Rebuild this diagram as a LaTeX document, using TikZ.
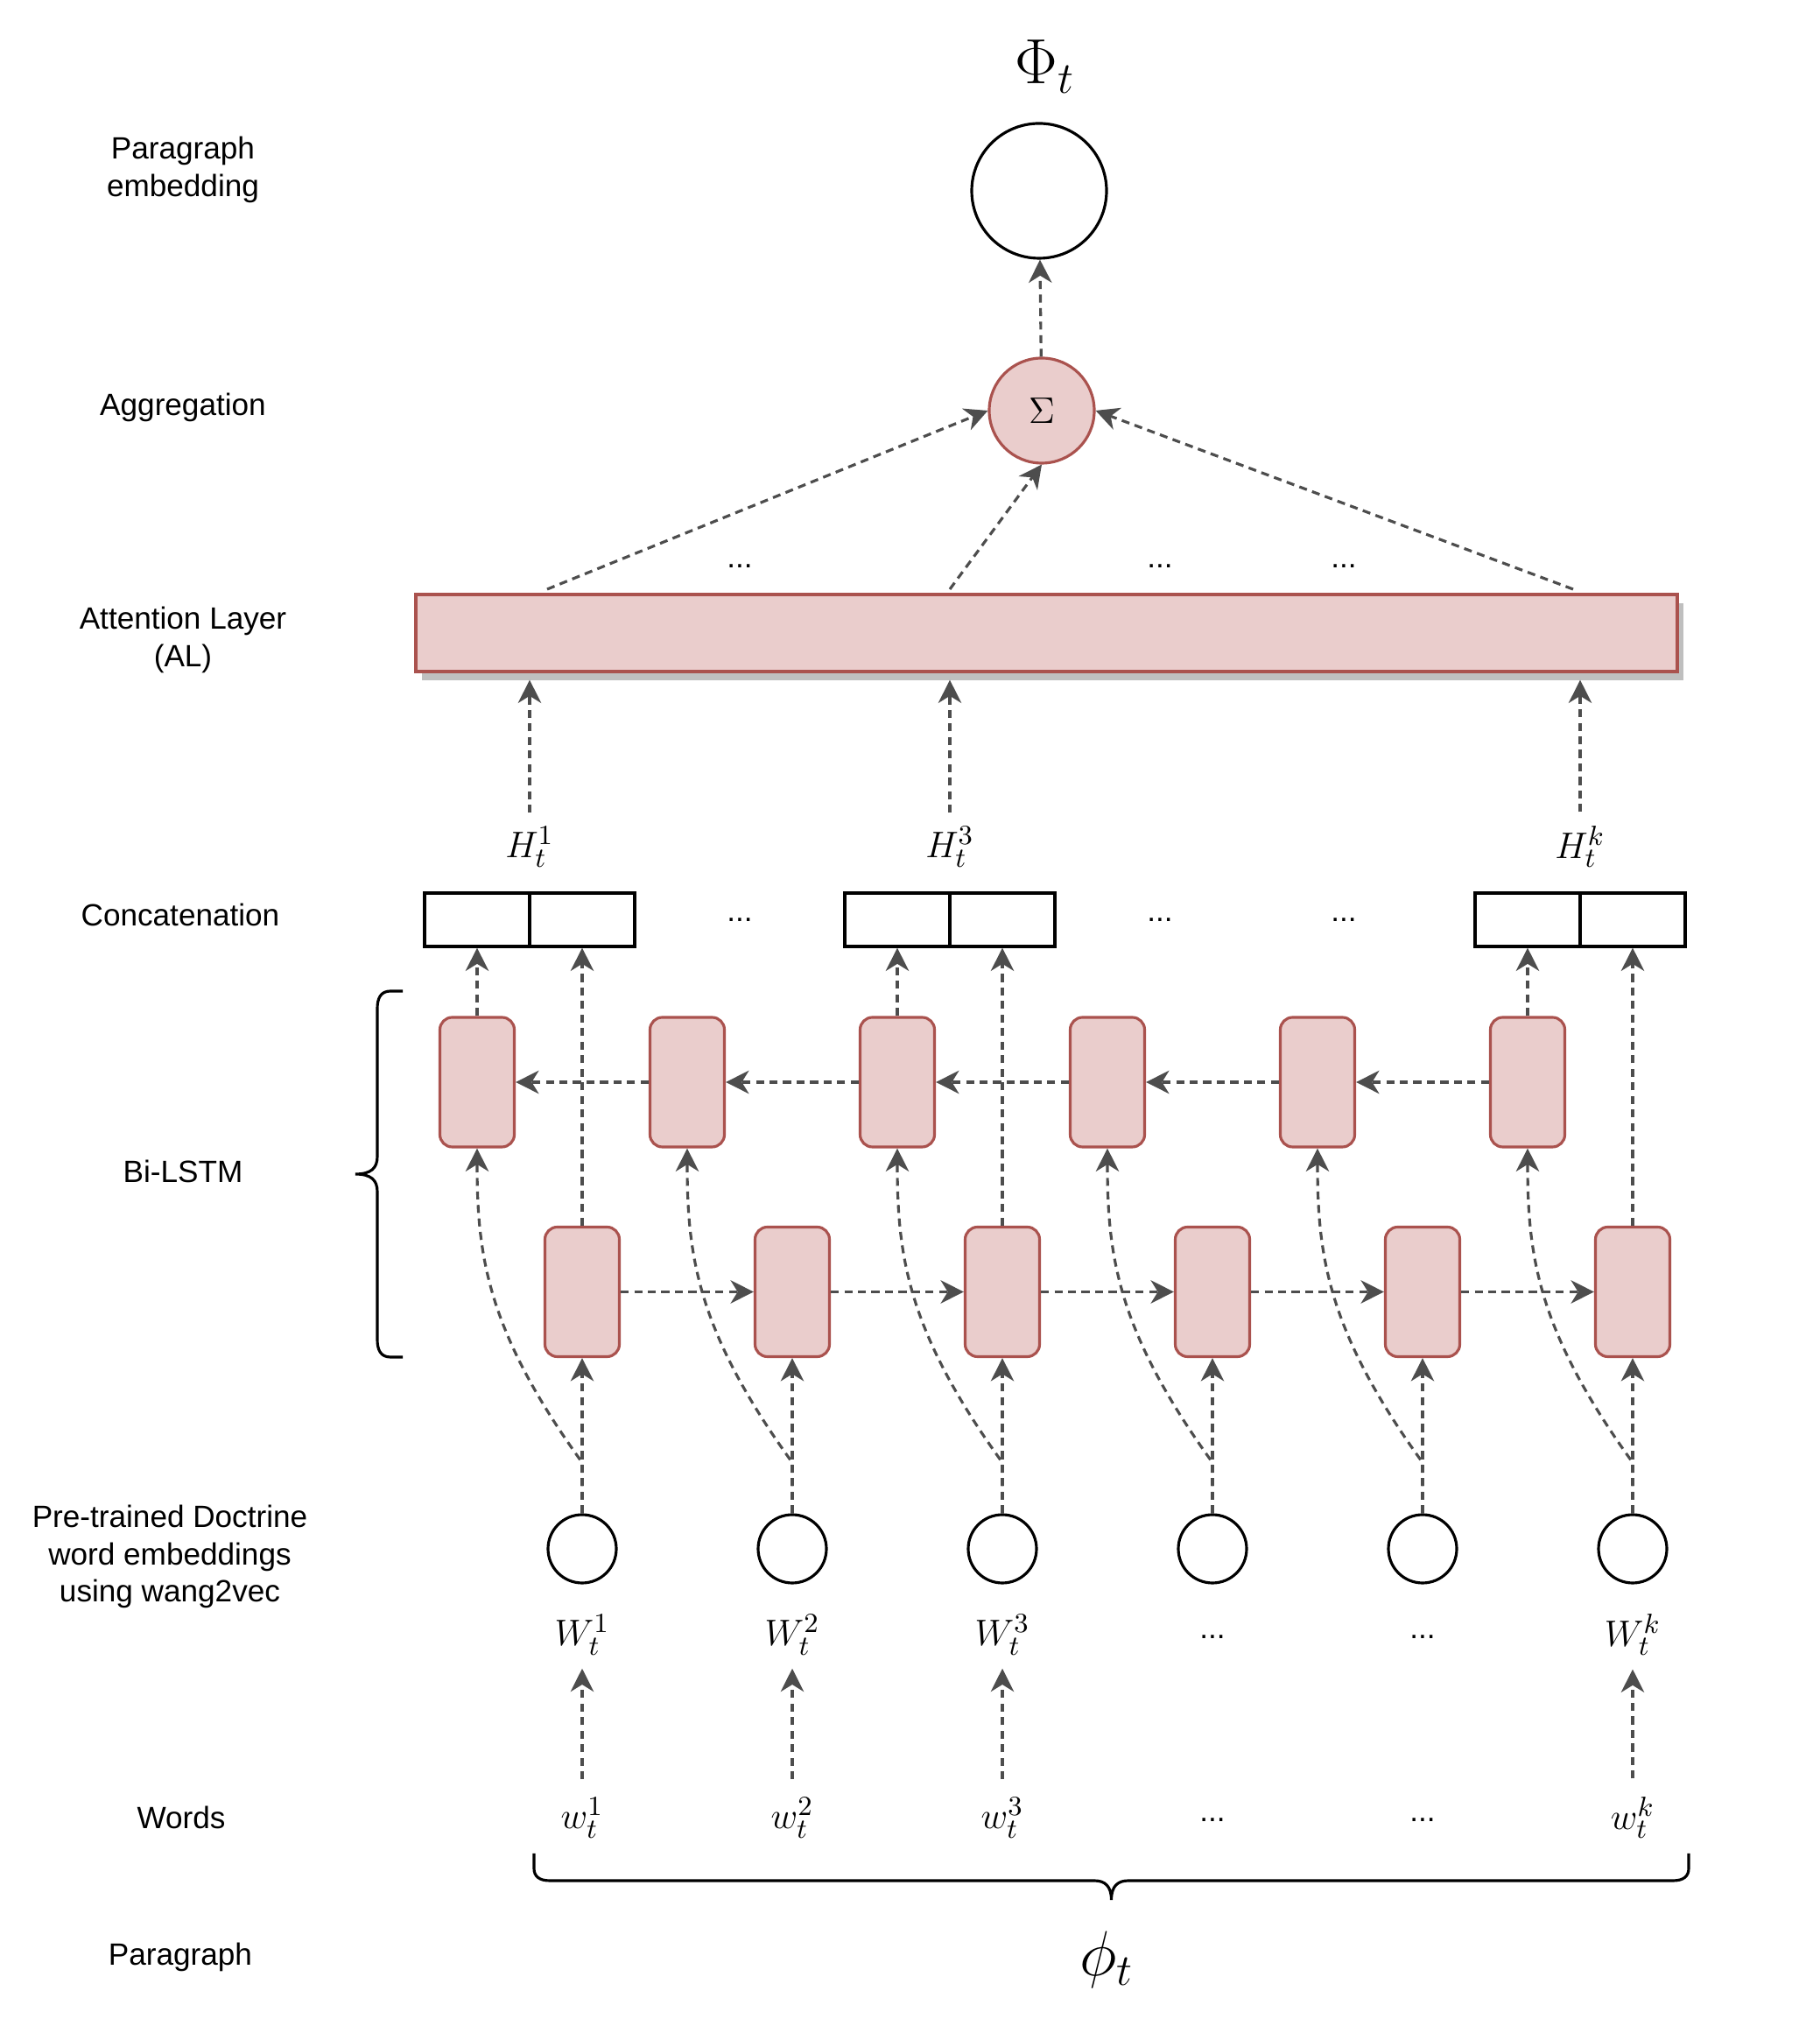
\documentclass[tikz,border=0pt]{standalone}
\usepackage{fontspec}
\setmainfont{Liberation Sans}
\usetikzlibrary{arrows.meta, positioning, calc, shadows}

\definecolor{lstmfill}{RGB}{234,205,204}
\definecolor{lstmline}{RGB}{170,82,78}
\definecolor{edgegray}{RGB}{77,77,77}
\definecolor{shadowgray}{RGB}{191,191,191}

\tikzset{
    flow/.style={draw=edgegray, line width=0.9pt, dash pattern=on 2.6pt off 1.8pt,
        -{Stealth[length=7.5pt, width=7.5pt, inset=2.3pt]}},
    cell/.style={draw=lstmline, fill=lstmfill, line width=0.9pt, rounded corners=4pt,
        minimum width=0.85cm, minimum height=1.48cm, inner sep=0pt},
    unit/.style={draw, circle, line width=0.9pt, minimum size=0.78cm, inner sep=0pt},
    half/.style={draw, line width=0.9pt, minimum width=1.2cm, minimum height=0.61cm, inner sep=0pt},
    attn/.style={draw=lstmline, fill=lstmfill, line width=0.9pt, minimum width=14.41cm,
        minimum height=0.88cm, inner sep=0pt,
        drop shadow={shadow xshift=0.07cm, shadow yshift=-0.1cm, fill=shadowgray, opacity=1}},
    layer/.style={font=\fontsize{10}{12}\selectfont, align=center},
    sym/.style={font=\fontsize{12.5}{14}\selectfont, inner sep=0pt},
    dots/.style={font=\fontsize{10}{12}\selectfont, inner sep=0pt},
    big/.style={font=\fontsize{20}{24}\selectfont, inner sep=0pt}
}

\begin{document}
\begin{tikzpicture}
    \useasboundingbox (0,0) rectangle (20.79,23.06);
    % layer names
    \node[layer] (lpara) at (2.09,21.12) {Paragraph\\embedding};
    \node[layer] (lagg) at (2.09,18.41) {Aggregation};
    \node[layer] (lal) at (2.09,15.75) {Attention Layer\\(AL)};
    \node[layer] (lcat) at (2.06,12.61) {Concatenation};
    \node[layer] (llstm) at (2.09,9.68) {Bi-LSTM};
    \node[layer] (lemb) at (1.94,5.28) {Pre-trained Doctrine\\word embeddings\\using wang2vec};
    \node[layer] (lword) at (2.07,2.30) {Words};
    \node[layer] (lpar) at (2.06,0.71) {Paragraph};
    % output
    \node[big] (phi) at (11.94,22.30) {$\Phi_t$};
    \node[unit, minimum size=1.54cm] (para) at (11.87,20.88) {};
    \node[unit, draw=lstmline, fill=lstmfill, minimum size=1.2cm, font=\fontsize{12}{14}\selectfont] (sum) at (11.90,18.37) {$\Sigma$};
    \draw[flow] (sum) -- (para);
    % attention layer
    \node[attn] (al) at (11.955,15.83) {};
    \coordinate (alb) at ([yshift=-0.08cm]al.south);
    \coordinate (al1) at (6.25,16.33);
    \coordinate (al3) at (10.85,16.33);
    \coordinate (alk) at (17.97,16.33);
    \draw[flow] (al1) -- (sum.west);
    \draw[flow] (al3) -- (sum.south);
    \draw[flow] (alk) -- (sum.east);
    \node[dots] (ad1) at (8.45,16.59) {...};
    \node[dots] (ad2) at (13.25,16.59) {...};
    \node[dots] (ad3) at (15.35,16.59) {...};
    % hidden states
    \node[sym] (h1) at (6.05,13.39) {$H_t^1$};
    \node[sym] (h3) at (10.85,13.39) {$H_t^3$};
    \node[sym] (hk) at (18.05,13.39) {$H_t^k$};
    \draw[flow] ([yshift=1.5mm]h1.north) -- (h1 |- alb);
    \draw[flow] ([yshift=1.5mm]h3.north) -- (h3 |- alb);
    \draw[flow] ([yshift=1.5mm]hk.north) -- (hk |- alb);
    % concatenation
    \node[half] (c1a) at (5.45,12.555) {};
    \node[half] (c1b) at (6.65,12.555) {};
    \node[half] (c2a) at (10.25,12.555) {};
    \node[half] (c2b) at (11.45,12.555) {};
    \node[half] (c3a) at (17.45,12.555) {};
    \node[half] (c3b) at (18.65,12.555) {};
    \node[dots] (cd1) at (8.45,12.55) {...};
    \node[dots] (cd2) at (13.25,12.55) {...};
    \node[dots] (cd3) at (15.35,12.55) {...};
    % backward lstm
    \node[cell] (t1) at (5.45,10.70) {};
    \node[cell] (t2) at (7.85,10.70) {};
    \node[cell] (t3) at (10.25,10.70) {};
    \node[cell] (t4) at (12.65,10.70) {};
    \node[cell] (t5) at (15.05,10.70) {};
    \node[cell] (t6) at (17.45,10.70) {};
    % forward lstm
    \node[cell] (b1) at (6.65,8.305) {};
    \node[cell] (b2) at (9.05,8.305) {};
    \node[cell] (b3) at (11.45,8.305) {};
    \node[cell] (b4) at (13.85,8.305) {};
    \node[cell] (b5) at (16.25,8.305) {};
    \node[cell] (b6) at (18.65,8.305) {};
    \draw[flow] (t2.west) -- (t1.east);
    \draw[flow] (t3.west) -- (t2.east);
    \draw[flow] (t4.west) -- (t3.east);
    \draw[flow] (t5.west) -- (t4.east);
    \draw[flow] (t6.west) -- (t5.east);
    \draw[flow] (b1.east) -- (b2.west);
    \draw[flow] (b2.east) -- (b3.west);
    \draw[flow] (b3.east) -- (b4.west);
    \draw[flow] (b4.east) -- (b5.west);
    \draw[flow] (b5.east) -- (b6.west);
    \draw[flow] (t1.north) -- (c1a.south);
    \draw[flow] (b1.north) -- (c1b.south);
    \draw[flow] (t3.north) -- (c2a.south);
    \draw[flow] (b3.north) -- (c2b.south);
    \draw[flow] (t6.north) -- (c3a.south);
    \draw[flow] (b6.north) -- (c3b.south);
    % word embeddings
    \node[unit] (e1) at (6.65,5.37) {};
    \node[unit] (e2) at (9.05,5.37) {};
    \node[unit] (e3) at (11.45,5.37) {};
    \node[unit] (e4) at (13.85,5.37) {};
    \node[unit] (e5) at (16.25,5.37) {};
    \node[unit] (e6) at (18.65,5.37) {};
    \draw[flow] (e1.north) -- (b1.south);
    \draw[flow] (e2.north) -- (b2.south);
    \draw[flow] (e3.north) -- (b3.south);
    \draw[flow] (e4.north) -- (b4.south);
    \draw[flow] (e5.north) -- (b5.south);
    \draw[flow] (e6.north) -- (b6.south);
    \draw[flow] (e1.north) -- ++(0,0.58) .. controls +(-1.1,1.52) and +(0,-1.2) .. (t1.south);
    \draw[flow] (e2.north) -- ++(0,0.58) .. controls +(-1.1,1.52) and +(0,-1.2) .. (t2.south);
    \draw[flow] (e3.north) -- ++(0,0.58) .. controls +(-1.1,1.52) and +(0,-1.2) .. (t3.south);
    \draw[flow] (e4.north) -- ++(0,0.58) .. controls +(-1.1,1.52) and +(0,-1.2) .. (t4.south);
    \draw[flow] (e5.north) -- ++(0,0.58) .. controls +(-1.1,1.52) and +(0,-1.2) .. (t5.south);
    \draw[flow] (e6.north) -- ++(0,0.58) .. controls +(-1.1,1.52) and +(0,-1.2) .. (t6.south);
    \node[sym] (W1) at (6.65,4.39) {$W_t^1$};
    \node[sym] (W2) at (9.05,4.39) {$W_t^2$};
    \node[sym] (W3) at (11.45,4.39) {$W_t^3$};
    \node[dots] (Wd1) at (13.85,4.36) {...};
    \node[dots] (Wd2) at (16.25,4.36) {...};
    \node[sym] (Wk) at (18.65,4.39) {$W_t^k$};
    % words
    \node[sym] (w1) at (6.65,2.30) {$w_t^1$};
    \node[sym] (w2) at (9.05,2.30) {$w_t^2$};
    \node[sym] (w3) at (11.45,2.30) {$w_t^3$};
    \node[dots] (wd1) at (13.85,2.27) {...};
    \node[dots] (wd2) at (16.25,2.27) {...};
    \node[sym] (wk) at (18.65,2.30) {$w_t^k$};
    \draw[flow] ([yshift=2mm]w1.north) -- ([yshift=-1.5mm]W1.south);
    \draw[flow] ([yshift=2mm]w2.north) -- ([yshift=-1.5mm]W2.south);
    \draw[flow] ([yshift=2mm]w3.north) -- ([yshift=-1.5mm]W3.south);
    \draw[flow] ([yshift=2mm]wk.north) -- ([yshift=-1.5mm]Wk.south);
    % braces
    \draw[line width=0.9pt] (4.60,11.74) -- (4.46,11.74) .. controls (4.35,11.74) and (4.31,11.66) .. (4.31,11.54)
        -- (4.31,9.85) .. controls (4.31,9.72) and (4.24,9.65) .. (4.06,9.65)
        .. controls (4.24,9.65) and (4.31,9.58) .. (4.31,9.45)
        -- (4.31,7.76) .. controls (4.31,7.64) and (4.35,7.56) .. (4.46,7.56) -- (4.60,7.56);
    \draw[line width=0.9pt] (6.10,1.89) -- (6.10,1.72) .. controls (6.10,1.63) and (6.16,1.58) .. (6.28,1.58)
        -- (12.50,1.58) .. controls (12.62,1.58) and (12.695,1.52) .. (12.695,1.36)
        .. controls (12.695,1.52) and (12.77,1.58) .. (12.89,1.58)
        -- (19.11,1.58) .. controls (19.23,1.58) and (19.29,1.63) .. (19.29,1.72) -- (19.29,1.89);
    \node[big] (varphi) at (12.64,0.68) {$\phi_t$};
\end{tikzpicture}
\end{document}
